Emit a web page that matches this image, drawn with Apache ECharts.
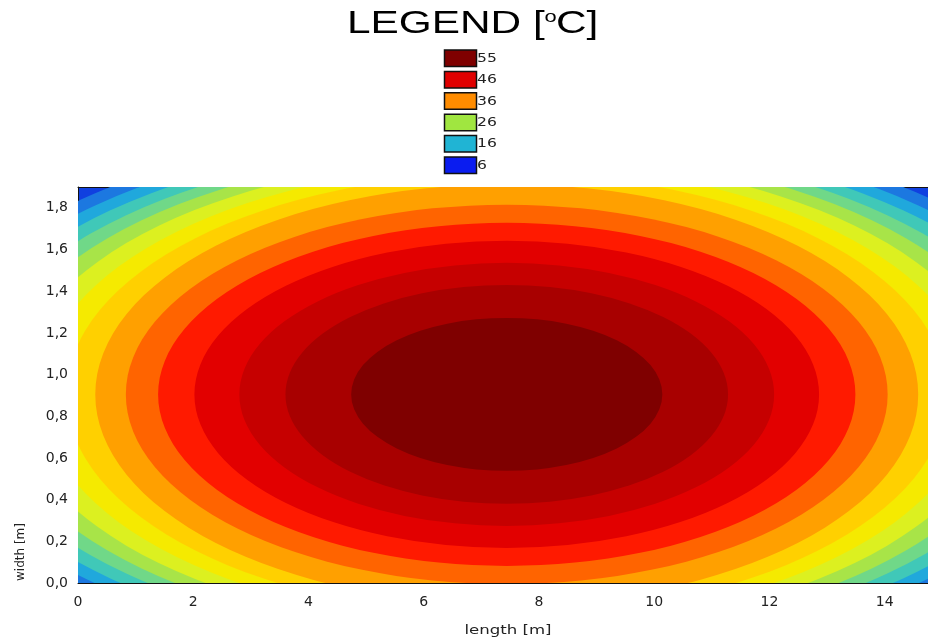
<!DOCTYPE html>
<html>
<head>
<meta charset="utf-8">
<script src="https://cdn.jsdelivr.net/npm/echarts@6/dist/echarts.min.js"></script>
<style>html,body{margin:0;padding:0;background:#fff;overflow:hidden}#chart{width:928px;height:640px}</style>
</head>
<body>
<div id="chart"></div>
<script>
// hot-spot centre [m]
const centreLength = 7.44;
const centreWidth = 0.905;
// contour boundaries, outermost first: semi-axes along length and width [m]
const contourSemiLength = [10.45, 10.10, 9.74, 9.35, 8.96, 8.54, 8.10, 7.64, 7.14, 6.61, 6.05, 5.42, 4.64, 3.84, 2.70];
const contourSemiWidth  = [1.322, 1.282, 1.247, 1.214, 1.181, 1.144, 1.104, 1.060, 1.008, 0.910, 0.823, 0.737, 0.631, 0.525, 0.367];
// fill colour of each temperature band, coldest (outside) first
const bandColors = ['#1040e0', '#1c78e0', '#20a8dc', '#40c8b8', '#70d888', '#a8e448', '#dcf020', '#f5ea00',
                    '#ffd000', '#ffa000', '#ff6400', '#ff1a00', '#e20000', '#c60000', '#a80000', '#7f0000'];
// legend
const legendLabels = ['55', '46', '36', '26', '16', '6'];
const legendColors = ['#7f0000', '#e00000', '#ff8c00', '#a0e640', '#20b4d4', '#0a1cf0'];
// axes
const lengthMin = 0, lengthMax = 14.75, lengthStep = 1;
const widthMin = 0, widthMax = 1.9, widthStep = 0.1;

const FONT = 'DejaVu Sans';
const chart = echarts.init(document.getElementById('chart'));

const contourData = contourSemiLength.map((a, i) => [centreLength, centreWidth, a, contourSemiWidth[i], i + 1]);

const graphic = [];
// title
graphic.push({
  type: 'group', x: 347, y: 0, scaleX: 1.366, silent: true,
  children: [
    { type: 'text', x: 0, y: 24, style: { text: 'LEGEND [', font: '31px "Liberation Sans", Arial', fill: '#000', verticalAlign: 'middle', align: 'left' } },
    { type: 'text', x: 144.5, y: 18, style: { text: 'o', font: '16px "Liberation Sans", Arial', fill: '#000', verticalAlign: 'middle', align: 'left' } },
    { type: 'text', x: 153, y: 24, style: { text: 'C]', font: '31px "Liberation Sans", Arial', fill: '#000', verticalAlign: 'middle', align: 'left' } }
  ]
});
// legend boxes
legendLabels.forEach((lab, i) => {
  const top = 50 + i * 21.4;
  graphic.push({ type: 'rect', silent: true, shape: { x: 444.5, y: top, width: 32, height: 16.5 },
    style: { fill: legendColors[i], stroke: '#111', lineWidth: 1.5 } });
  graphic.push({ type: 'text', silent: true, x: 477, y: top + 8.5, scaleX: 1.2,
    style: { text: lab, font: '13px "DejaVu Sans"', fill: '#222', verticalAlign: 'middle', align: 'left' } });
});
// axis names
graphic.push({ type: 'text', silent: true, x: 508, y: 631, scaleX: 1.38,
  style: { text: 'length [m]', font: '12px "DejaVu Sans"', fill: '#222', align: 'center', verticalAlign: 'middle' } });
graphic.push({ type: 'text', silent: true, x: 21, y: 552, rotation: Math.PI / 2,
  style: { text: 'width [m]', font: '12px "DejaVu Sans"', fill: '#222', align: 'center', verticalAlign: 'middle' } });

const axisCommon = {
  type: 'value',
  splitLine: { show: false },
  axisLine: { show: true, onZero: false, lineStyle: { color: '#111', width: 1 } },
  axisTick: { show: true, inside: true, length: 4, lineStyle: { color: '#111' } }
};

chart.setOption({
  animation: false,
  backgroundColor: '#fff',
  grid: { left: 78, right: 0, top: 187, bottom: 57, containLabel: false, outerBoundsMode: 'none',
          show: true, backgroundColor: bandColors[0], borderWidth: 0 },
  xAxis: [
    Object.assign({}, axisCommon, {
      position: 'bottom', min: lengthMin, max: lengthMax, interval: lengthStep,
      axisLabel: { margin: 12, fontFamily: FONT, fontSize: 14, color: '#222',
        formatter: v => (Math.abs(v - Math.round(v)) < 1e-6 && Math.round(v) % 2 === 0) ? String(Math.round(v)) : '' }
    }),
    Object.assign({}, axisCommon, {
      position: 'top', min: lengthMin, max: lengthMax, interval: lengthStep,
      axisLabel: { show: false }
    })
  ],
  yAxis: Object.assign({}, axisCommon, {
    min: widthMin, max: widthMax, interval: widthStep,
    axisLabel: { margin: 10, fontFamily: FONT, fontSize: 14, color: '#222',
      formatter: v => { const k = Math.round(v * 10); return k % 2 === 0 ? (k / 10).toFixed(1).replace('.', ',') : ''; } }
  }),
  series: [{
    type: 'custom',
    coordinateSystem: 'cartesian2d',
    xAxisIndex: 0, yAxisIndex: 0,
    clip: true, silent: true,
    encode: { x: 0, y: 1 },
    data: contourData,
    renderItem: function (params, api) {
      const c = api.coord([api.value(0), api.value(1)]);
      const s = api.size([api.value(2), api.value(3)]);
      const rx = s[0], ry = s[1];
      const d = 'M ' + (c[0] - rx) + ' ' + c[1] +
        ' A ' + rx + ' ' + ry + ' 0 1 0 ' + (c[0] + rx) + ' ' + c[1] +
        ' A ' + rx + ' ' + ry + ' 0 1 0 ' + (c[0] - rx) + ' ' + c[1] + ' Z';
      return { type: 'path', shape: { pathData: d }, style: { fill: bandColors[api.value(4)], stroke: null } };
    }
  }],
  graphic: graphic
});
</script>
</body>
</html>
